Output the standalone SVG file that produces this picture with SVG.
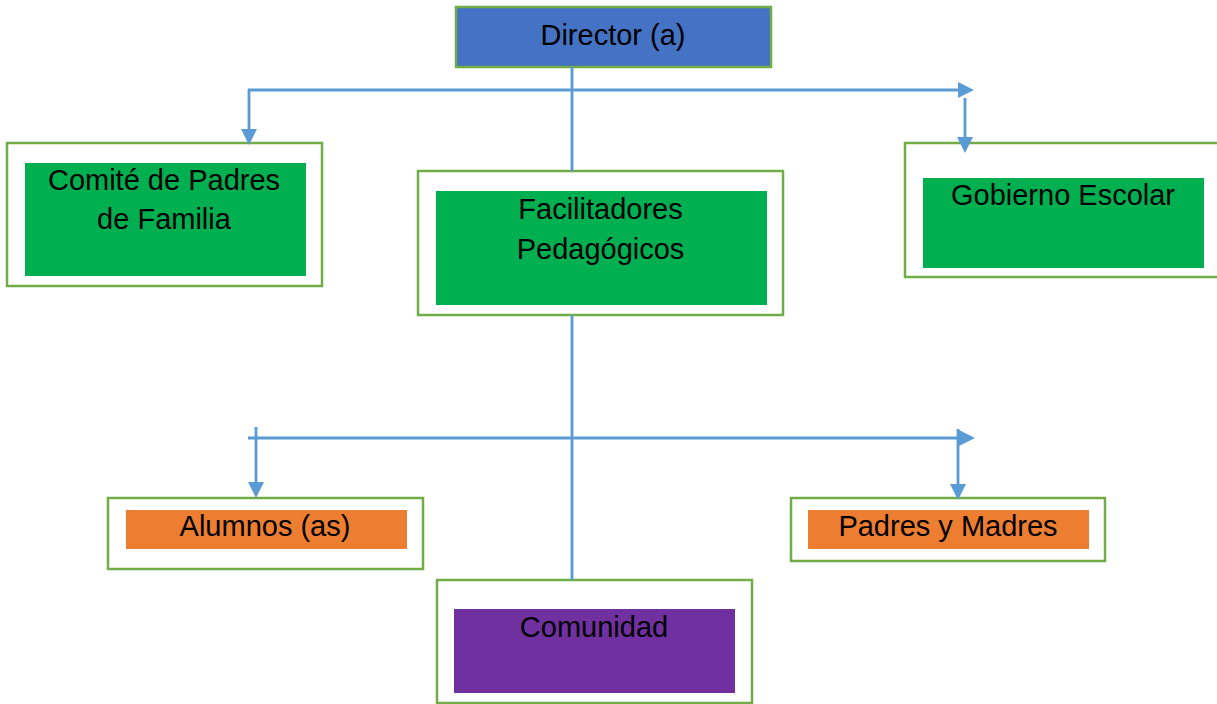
<svg xmlns="http://www.w3.org/2000/svg" width="1217" height="704" viewBox="0 0 1217 704">
  <style>
    .outer { fill: #ffffff; stroke: #70AD47; stroke-width: 2.5; }
    .green { fill: #00B050; }
    .orange { fill: #ED7D31; }
    .purple { fill: #7030A0; }
    .blue { fill: #4472C4; stroke: #70AD47; stroke-width: 2.5; }
    .lbl { font-family: "Liberation Sans", Arial, sans-serif; font-size: 29px; fill: #000000; text-anchor: middle; }
    .conn { fill: none; stroke: #5B9BD5; stroke-width: 2.8; }
  </style>
  <defs>
    <marker id="arrow" markerUnits="userSpaceOnUse" markerWidth="16" markerHeight="16" viewBox="0 0 16 16" refX="1" refY="8" orient="auto">
      <path d="M0,0 L16,8 L0,16 z" fill="#5B9BD5"/>
    </marker>
  </defs>
  <rect width="1217" height="704" fill="#ffffff"/>

  <g id="director">
    <rect class="blue" x="456" y="7" width="315" height="60"/>
    <text class="lbl" x="613" y="45">Director (a)</text>
  </g>

  <g id="comite">
    <rect class="outer" x="7" y="143" width="315" height="143"/>
    <rect class="green" x="25" y="163" width="281" height="113"/>
    <text class="lbl" x="164" y="190">Comité de Padres</text>
    <text class="lbl" x="164" y="229">de Familia</text>
  </g>

  <g id="facilitadores">
    <rect class="outer" x="418" y="171" width="365" height="144"/>
    <rect class="green" x="436" y="191" width="331" height="114"/>
    <text class="lbl" x="600.5" y="219">Facilitadores</text>
    <text class="lbl" x="600.5" y="259">Pedagógicos</text>
  </g>

  <g id="gobierno">
    <rect class="outer" x="905" y="143" width="320" height="134"/>
    <rect class="green" x="923" y="178" width="281" height="90"/>
    <text class="lbl" x="1063" y="205">Gobierno Escolar</text>
  </g>

  <g id="alumnos">
    <rect class="outer" x="108" y="498" width="315" height="71"/>
    <rect class="orange" x="126" y="510" width="281" height="39"/>
    <text class="lbl" x="265" y="536">Alumnos (as)</text>
  </g>

  <g id="padres">
    <rect class="outer" x="791" y="498" width="314" height="63"/>
    <rect class="orange" x="808" y="510" width="281" height="39"/>
    <text class="lbl" x="948" y="536">Padres y Madres</text>
  </g>

  <g id="comunidad">
    <rect class="outer" x="437" y="580" width="315" height="123"/>
    <rect class="purple" x="454" y="609" width="281" height="84"/>
    <text class="lbl" x="594" y="637">Comunidad</text>
  </g>

  <g id="connectors">
    <line class="conn" x1="572" y1="67" x2="572" y2="171"/>
    <line class="conn" x1="572" y1="315" x2="572" y2="580"/>
    <line class="conn" x1="248" y1="90" x2="959" y2="90" marker-end="url(#arrow)"/>
    <line class="conn" x1="249" y1="89" x2="249" y2="130" marker-end="url(#arrow)"/>
    <line class="conn" x1="965" y1="98" x2="965" y2="138" marker-end="url(#arrow)"/>
    <line class="conn" x1="248" y1="438" x2="960" y2="438" marker-end="url(#arrow)"/>
    <line class="conn" x1="256" y1="427" x2="256" y2="483" marker-end="url(#arrow)"/>
    <line class="conn" x1="958" y1="429" x2="958" y2="485" marker-end="url(#arrow)"/>
  </g>
</svg>
